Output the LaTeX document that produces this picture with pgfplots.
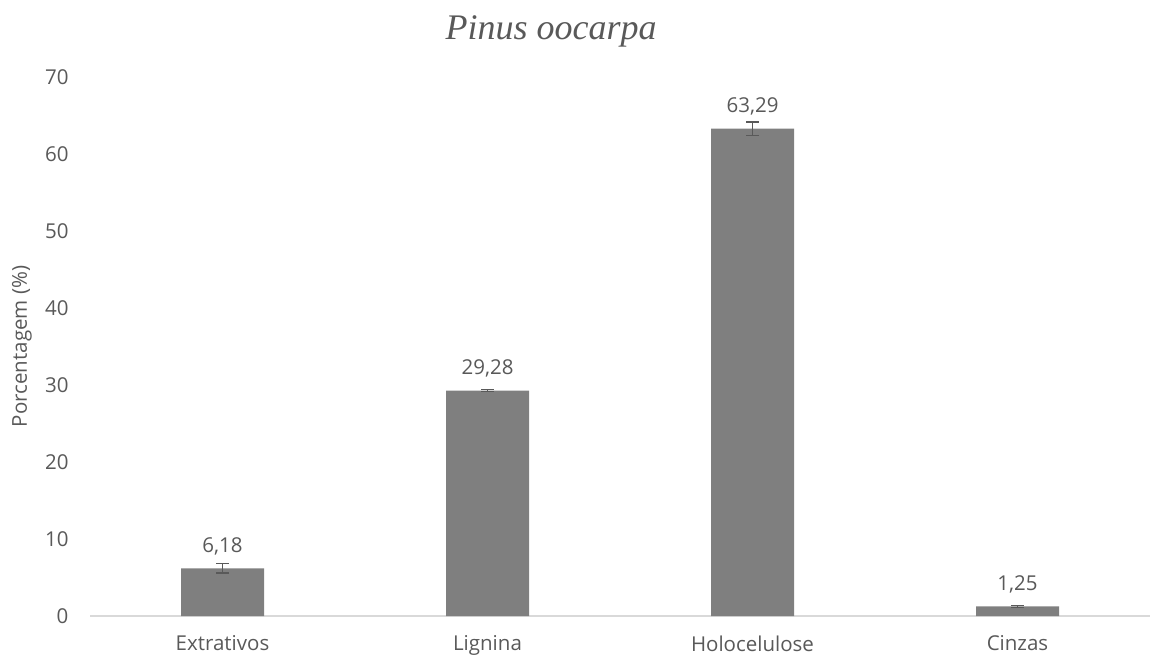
\documentclass[border=0pt]{standalone}
\usepackage{fontspec}
\setmainfont{Open Sans}
\newfontfamily\titlefont{Liberation Serif}
\usepackage{pgfplots}
\pgfplotsset{compat=1.18}
\definecolor{txt}{HTML}{595959}
\definecolor{barc}{HTML}{7F7F7F}
\definecolor{axl}{HTML}{D9D9D9}
\newcommand\lblfont{\fontsize{20.5}{20.5}\selectfont}

\begin{document}
\begin{tikzpicture}[x=1pt,y=1pt]
\useasboundingbox (0,0) rectangle (1150,657);
\begin{axis}[
  at={(90pt,41pt)}, anchor=south west,
  scale only axis, width=1060pt, height=539pt,
  xmin=-0.5, xmax=3.5, ymin=0, ymax=70,
  ytick={0,10,...,70},
  xtick={0,1,2,3},
  xticklabels={Extrativos,Lignina,Holocelulose,Cinzas},
  axis x line*=bottom, axis y line*=left,
  x axis line style={axl, line width=1.3pt},
  y axis line style={draw=none},
  major tick length=0pt,
  /pgf/number format/assume math mode=true,
  tick label style={font=\lblfont, text=txt},
  yticklabel style={xshift=-18pt},
  xticklabel style={yshift=-16pt},
  ylabel={Porcentagem (\%)},
  ylabel style={at={(axis description cs:-0.0642,0.5)}, anchor=center, rotate=0,
    font=\lblfont, text=txt},
  title={\titlefont\itshape Pinus oocarpa},
  title style={at={(axis description cs:0.435,1.074)}, anchor=center,
    font=\fontsize{36}{36}\selectfont, text=txt},
  ybar, bar width=83pt,
  nodes near coords,
  nodes near coords style={font=\lblfont, text=txt, yshift=10pt,
    /pgf/number format/use comma, /pgf/number format/fixed,
    /pgf/number format/fixed zerofill, /pgf/number format/precision=2},
]
\addplot[fill=barc, draw=none,
  error bars/.cd, y dir=both, y explicit,
  error bar style={txt, line width=1.3pt},
  error mark options={rotate=90, mark size=6.5pt, line width=1.3pt, txt}]
coordinates {
  (0,6.18)  +- (0,0.60)
  (1,29.28) +- (0,0.15)
  (2,63.29) +- (0,0.85)
  (3,1.25)  +- (0,0.10)
};
\end{axis}
\end{tikzpicture}
\end{document}
